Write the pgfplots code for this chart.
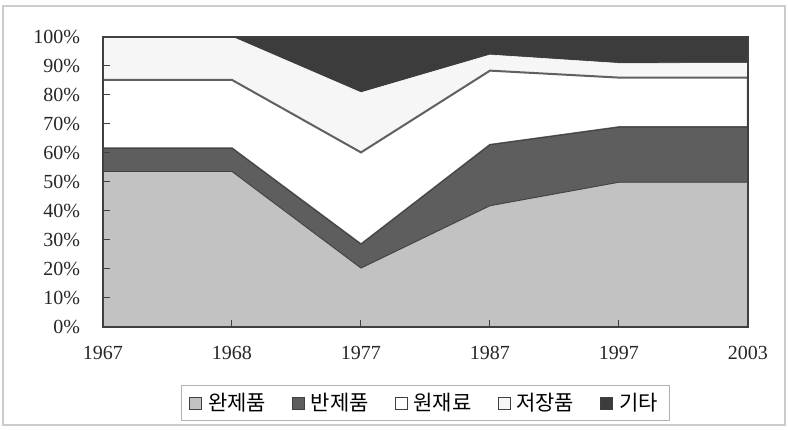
\documentclass[border=0pt]{standalone}
\usepackage{pgfplots}
\pgfplotsset{compat=1.18}
\usepackage{fontspec}
\setmainfont{Liberation Serif}
\newfontfamily\kr{Noto Sans CJK KR}
\definecolor{cA}{HTML}{C2C2C2}
\definecolor{cB}{HTML}{5E5E5E}
\definecolor{cC}{HTML}{FFFFFF}
\definecolor{cD}{HTML}{F6F6F6}
\definecolor{cE}{HTML}{3C3C3C}
\definecolor{edge}{HTML}{404040}
\begin{document}
\begin{tikzpicture}
\path[use as bounding box] (0pt,0pt) rectangle (394pt,214.5pt);
\draw[gray!40, line width=0.6pt] (1.5pt,2pt) rectangle (392.5pt,211.5pt);
\begin{axis}[
  at={(51.5pt,51pt)}, anchor=origin,
  width=322.5pt, height=145pt, scale only axis,
  stack plots=y,
  xmin=0, xmax=5, ymin=0, ymax=100,
  xtick={0,1,2,3,4,5},
  xticklabels={1967,1968,1977,1987,1997,2003},
  ytick={0,10,...,100},
  yticklabel={\pgfmathprintnumber{\tick}\%},
  /pgf/number format/assume math mode=true,
  tick align=inside, xtick pos=bottom, ytick pos=left,
  major tick length=3.5pt,
  tick style={edge, line width=0.5pt},
  axis line style={edge, line width=0.6pt},
  axis on top,
  ticklabel style={font=\fontsize{10}{12}\selectfont, text=black!85},
  xticklabel style={yshift=-6pt},
  yticklabel style={xshift=-8pt},
  legend columns=5,
  legend style={at={(0.5,-0.262)}, anchor=center, draw=gray!60, line width=0.5pt,
    font=\kr\fontsize{10.5}{12}\selectfont, inner xsep=4pt, inner ysep=1.5pt,
    /tikz/every even column/.append style={column sep=11pt},
    /tikz/every odd column/.append style={column sep=1pt}},
  legend image code/.code={\draw[#1, draw=edge, line width=0.4pt] (0pt,-3pt) rectangle (6pt,3pt);},
]
\addplot[fill=cA, draw=edge, line width=0.4pt] coordinates {(0,53.6) (1,53.6) (2,20.3) (3,41.8) (4,49.9) (5,49.9)} \closedcycle;
\addlegendentry{완제품}
\addplot[fill=cB, draw=edge, line width=0.4pt] coordinates {(0,8.0) (1,8.0) (2,8.2) (3,21.0) (4,19.0) (5,19.0)} \closedcycle;
\addlegendentry{반제품}
\addplot[fill=cC, draw=gray!75!black, line width=1pt] coordinates {(0,23.6) (1,23.6) (2,31.7) (3,25.6) (4,17.1) (5,17.1)} \closedcycle;
\addlegendentry{원재료}
\addplot[fill=cD, draw=cD, line width=0.3pt] coordinates {(0,14.8) (1,14.8) (2,20.6) (3,5.4) (4,4.9) (5,5.0)} \closedcycle;
\addlegendentry{저장품}
\addplot[fill=cE, draw=cE, line width=0.3pt] coordinates {(0,0) (1,0) (2,19.2) (3,6.2) (4,9.1) (5,9.0)} \closedcycle;
\addlegendentry{기타}
\end{axis}
\end{tikzpicture}
\end{document}
